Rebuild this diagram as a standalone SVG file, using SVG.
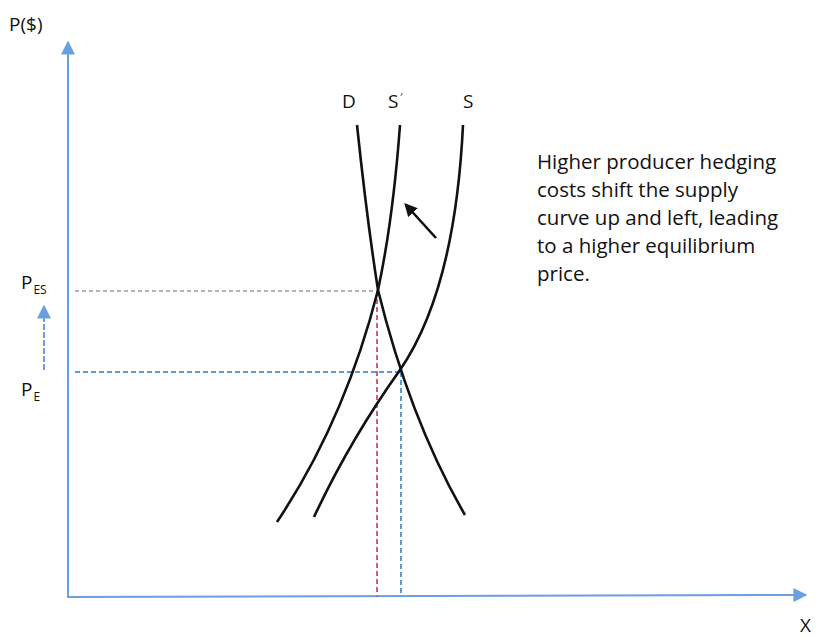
<svg xmlns="http://www.w3.org/2000/svg" width="817" height="637" viewBox="0 0 817 637">
<style>
text{font-family:"Open Sans","Liberation Sans",sans-serif;fill:#111}
.lbl{font-size:19px}
.sub{font-size:12px}
.note{font-size:20.5px}
.curve{fill:none;stroke:#111;stroke-width:2.6}
.axis{stroke:#6aa0e0;stroke-width:2;fill:none}
</style>
<defs>
<marker id="ab" viewBox="0 0 10 10" refX="9" refY="5" markerWidth="7" markerHeight="7" orient="auto"><path d="M0,0 L10,5 L0,10 z" fill="#6aa0e0"/></marker>
<marker id="ak" viewBox="0 0 10 10" refX="8" refY="5" markerWidth="5" markerHeight="5" orient="auto"><path d="M0,0 L10,5 L0,10 z" fill="#111"/></marker>
</defs>
<rect width="817" height="637" fill="#fff"/>
<g id="axes">
<line class="axis" x1="68" y1="597" x2="68" y2="42" marker-end="url(#ab)"/>
<line class="axis" x1="67" y1="597" x2="806" y2="595" marker-end="url(#ab)"/>
<text x="9" y="31" class="lbl" font-size="20">P($)</text>
<text x="800" y="632" class="lbl" font-size="17">X</text>
</g>
<g id="guides">
<line x1="75" y1="291" x2="376" y2="291" stroke="#999" stroke-width="1.5" stroke-dasharray="4 3"/>
<line x1="377" y1="291" x2="377" y2="597" stroke="#d0607a" stroke-width="2" stroke-dasharray="5 3"/>
<line x1="75" y1="372" x2="400" y2="372" stroke="#5a9ad8" stroke-width="2" stroke-dasharray="5 3"/>
<line x1="401" y1="372" x2="401" y2="597" stroke="#5a9ad8" stroke-width="2" stroke-dasharray="5 3"/>
<line x1="44" y1="370" x2="44" y2="306" stroke="#6aa0e0" stroke-width="2" stroke-dasharray="6 2" marker-end="url(#ab)"/>
</g>
<g id="curves">
<path id="D" class="curve" d="M357,125 Q367,220 378,290 Q410,420 465,515"/>
<path id="Sprime" class="curve" d="M400,125 Q393,220 378,290 Q345,420 277,522"/>
<path id="S" class="curve" d="M463,125 Q455,290 400,370 Q350,440 314,517"/>
<line class="curve" x1="436" y1="238" x2="406" y2="205" marker-end="url(#ak)"/>
</g>
<g id="labels">
<text x="342" y="108" class="lbl">D</text>
<text x="388" y="108" class="lbl">S</text><text x="400" y="101" font-size="11">′</text>
<text x="463" y="108" class="lbl">S</text>
<text x="21" y="289" class="lbl">P<tspan class="sub" dx="1" dy="5">ES</tspan></text>
<text x="21" y="396" class="lbl">P<tspan class="sub" dx="1" dy="5">E</tspan></text>
</g>
<g id="note" class="note">
<text x="537" y="169">Higher producer hedging</text>
<text x="537" y="197">costs shift the supply</text>
<text x="537" y="225">curve up and left, leading</text>
<text x="537" y="253">to a higher equilibrium</text>
<text x="537" y="281">price.</text>
</g>
</svg>
